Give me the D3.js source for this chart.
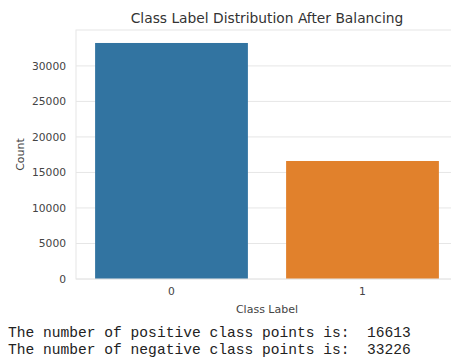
<!DOCTYPE html>
<html>
<head>
<meta charset="utf-8">
<script src="https://cdn.jsdelivr.net/npm/d3@7"></script>
<style>
  body { margin: 0; background: #fff; overflow: hidden; }
  svg { display: block; }
</style>
</head>
<body>
<div id="chart"></div>
<script>
const categories = ["0", "1"];
const counts = [33226, 16613];
const yTicks = [0, 5000, 10000, 15000, 20000, 25000, 30000];
const barColors = ["#3274a1", "#e1812c"];
const outputLines = [
  "The number of positive class points is:  16613",
  "The number of negative class points is:  33226"
];

const width = 451, height = 358;
const margin = { top: 30, left: 76, bottom: 79 };
const plotW = 382; // plot runs past the right edge of the picture
const plotH = height - margin.top - margin.bottom;

const svg = d3.select("#chart").append("svg")
  .attr("width", width).attr("height", height)
  .style("font-family", "'DejaVu Sans', sans-serif");

const g = svg.append("g").attr("transform", `translate(${margin.left},${margin.top})`);

const x = d3.scaleBand().domain(categories).range([0, plotW]).paddingInner(0.2).paddingOuter(0.1);
const y = d3.scaleLinear().domain([0, d3.max(counts) * 1.055]).range([plotH, 0]);

// gridlines
g.append("g").selectAll("line").data(yTicks).join("line")
  .attr("x1", 0).attr("x2", plotW)
  .attr("y1", d => y(d)).attr("y2", d => y(d))
  .attr("stroke", "#e6e6e6").attr("stroke-width", 1);

// bars
g.selectAll("rect.bar").data(counts).join("rect")
  .attr("class", "bar")
  .attr("x", (d, i) => x(categories[i]))
  .attr("width", x.bandwidth())
  .attr("y", d => y(d))
  .attr("height", d => plotH - y(d))
  .attr("fill", (d, i) => barColors[i]);

// frame
g.append("rect").attr("x", 0).attr("y", 0).attr("width", plotW).attr("height", plotH)
  .attr("fill", "none").attr("stroke", "#e6e6e6").attr("stroke-width", 1);

// y axis
const yAxis = g.append("g")
  .call(d3.axisLeft(y).tickValues(yTicks).tickSize(0).tickPadding(10).tickFormat(d3.format("d")));
yAxis.select(".domain").remove();
yAxis.selectAll("text").attr("fill", "#444").attr("font-size", "10.7px").style("font-family", "'DejaVu Sans', sans-serif");

// x axis
const xAxis = g.append("g").attr("transform", `translate(0,${plotH})`)
  .call(d3.axisBottom(x).tickSize(0).tickPadding(8));
xAxis.select(".domain").remove();
xAxis.selectAll("text").attr("fill", "#444").attr("font-size", "10.7px").style("font-family", "'DejaVu Sans', sans-serif");

// labels
svg.append("text").attr("x", margin.left + plotW / 2).attr("y", 23)
  .attr("text-anchor", "middle").attr("font-size", "13.8px").attr("fill", "#333")
  .text("Class Label Distribution After Balancing");

svg.append("text").attr("x", margin.left + plotW / 2).attr("y", 313)
  .attr("text-anchor", "middle").attr("font-size", "11px").attr("fill", "#444")
  .text("Class Label");

svg.append("text")
  .attr("transform", `translate(24,${margin.top + plotH / 2}) rotate(-90)`)
  .attr("text-anchor", "middle").attr("font-size", "11px").attr("fill", "#444")
  .text("Count");

// printed output below the chart
svg.selectAll("text.out").data(outputLines).join("text")
  .attr("class", "out")
  .attr("x", 8).attr("y", (d, i) => 337 + i * 17)
  .attr("font-family", "'Liberation Mono', monospace")
  .attr("font-size", "14.6px").attr("fill", "#222")
  .attr("xml:space", "preserve").style("white-space", "pre")
  .text(d => d);
</script>
</body>
</html>
